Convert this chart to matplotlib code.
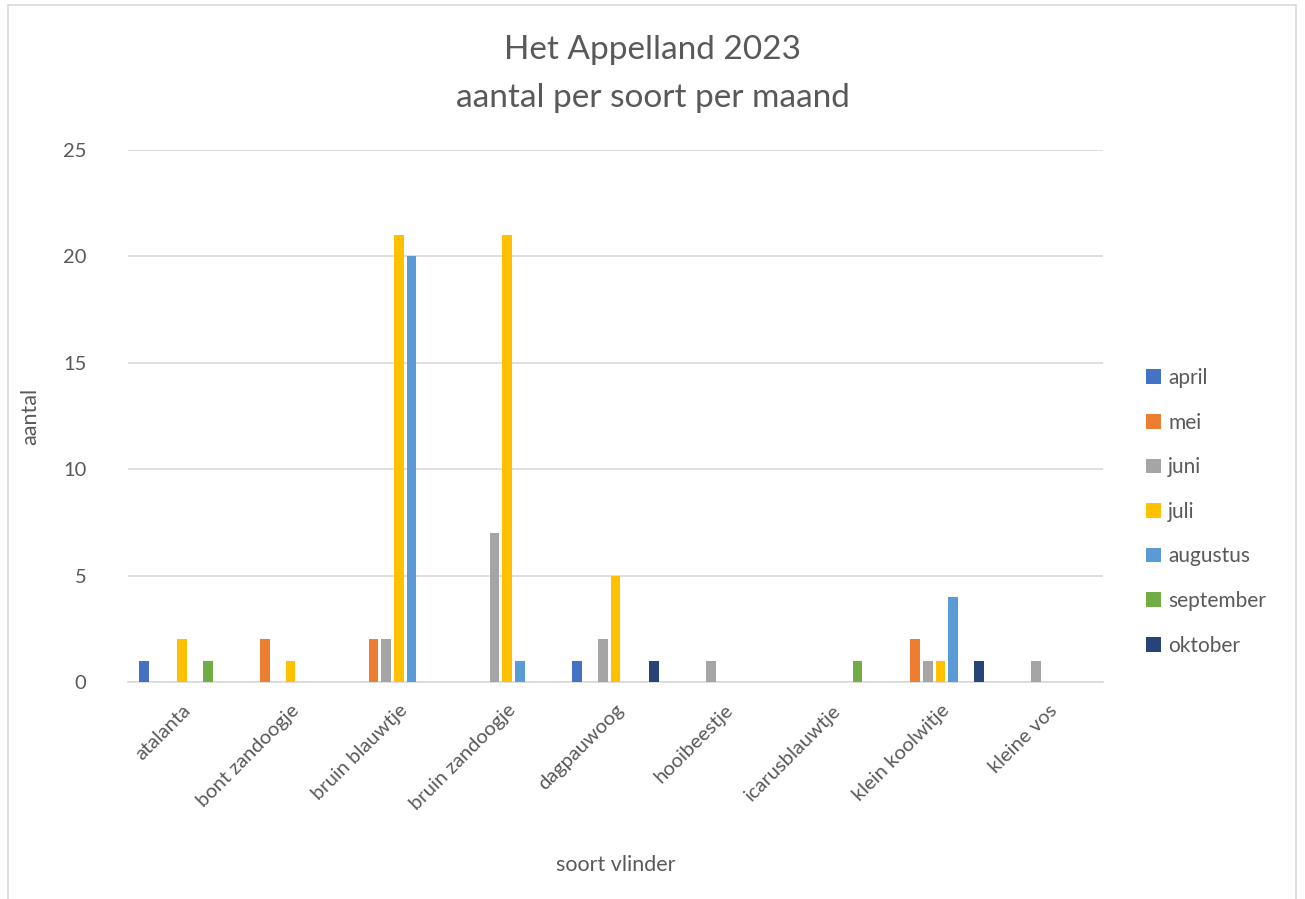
import numpy as np
import matplotlib.pyplot as plt
from matplotlib.patches import Rectangle

soorten = ['atalanta', 'bont zandoogje', 'bruin blauwtje', 'bruin zandoogje',
           'dagpauwoog', 'hooibeestje', 'icarusblauwtje', 'klein koolwitje', 'kleine vos']
maanden = ['april', 'mei', 'juni', 'juli', 'augustus', 'september', 'oktober']

april = [1, 0, 0, 0, 1, 0, 0, 0, 0]
mei = [0, 2, 2, 0, 0, 0, 0, 2, 0]
juni = [0, 0, 2, 7, 2, 1, 0, 1, 1]
juli = [2, 1, 21, 21, 5, 0, 0, 1, 0]
augustus = [0, 0, 20, 1, 0, 0, 0, 4, 0]
september = [1, 0, 0, 0, 0, 0, 1, 0, 0]
oktober = [0, 0, 0, 0, 1, 0, 0, 1, 0]

reeksen = [april, mei, juni, juli, augustus, september, oktober]
kleuren = ['#4472C4', '#ED7D31', '#A5A5A5', '#FFC000', '#5B9BD5', '#70AD47', '#264478']

plt.rcParams['font.family'] = ['Lato', 'DejaVu Sans']
tekst = '#595959'

fig = plt.figure(figsize=(13.05, 8.99), dpi=100)
ax = fig.add_axes([128/1305, 217/899, 975/1305, 532/899])

x = np.arange(len(soorten))
slot = 0.117
breedte = 0.092
for i, (naam, waarden, kleur) in enumerate(zip(maanden, reeksen, kleuren)):
    pos = x + (i - 3) * slot
    ax.bar(pos, waarden, width=breedte, color=kleur, label=naam, zorder=3)

ax.set_xlim(-0.5, len(soorten) - 0.5)
ax.set_ylim(0, 25)
ax.set_yticks([0, 5, 10, 15, 20, 25])
ax.grid(axis='y', color='#D9D9D9', linewidth=1.2, zorder=0)
for s in ['top', 'right', 'left']:
    ax.spines[s].set_visible(False)
ax.spines['bottom'].set_color('#D9D9D9')
ax.spines['bottom'].set_linewidth(1.2)
ax.tick_params(axis='both', length=0, colors=tekst, labelsize=14.5)
ax.tick_params(axis='y', pad=30)
ax.set_xticks(x)
ax.set_xticklabels(soorten, rotation=45, ha='right', rotation_mode='anchor')
ax.tick_params(axis='x', pad=14)

ax.set_ylabel('aantal', fontsize=15.5, color=tekst)
ax.yaxis.set_label_coords(-0.09, 0.5)
ax.set_xlabel('soort vlinder', fontsize=15.5, color=tekst)
ax.xaxis.set_label_coords(0.5, -0.325)

fig.text(0.5, 1 - 50/899, 'Het Appelland 2023', ha='center', va='center', fontsize=24, color=tekst)
fig.text(0.5, 1 - 98/899, 'aantal per soort per maand', ha='center', va='center', fontsize=24, color=tekst)

ax.legend(loc='center left', bbox_to_anchor=(1.025, 0.32), frameon=False,
          fontsize=15, labelcolor=tekst, handlelength=0.7, handleheight=0.7,
          labelspacing=1.18, handletextpad=0.35)

fig.patches.append(Rectangle((8/1305, -0.01), 1288/1305, 1 - 5/899 + 0.01,
                             transform=fig.transFigure, fill=False,
                             edgecolor='#D9D9D9', linewidth=1.2))

fig.savefig('out.png', dpi=100)
